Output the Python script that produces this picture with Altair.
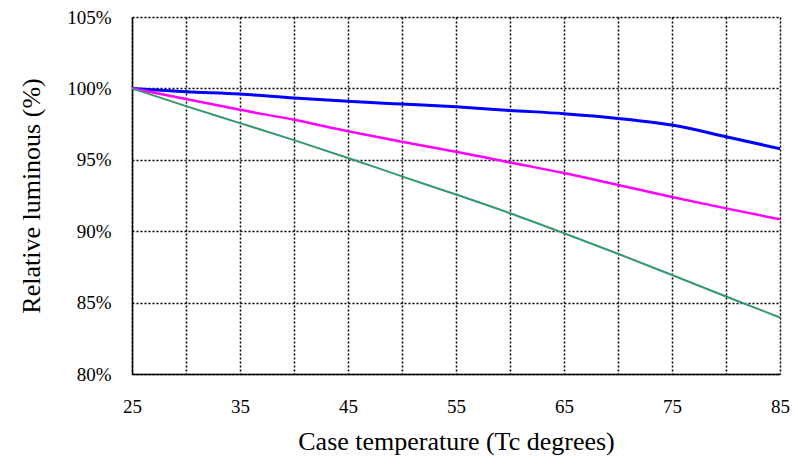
import altair as alt
import pandas as pd

temps = [25, 30, 35, 40, 45, 50, 55, 60, 65, 70, 75, 80, 85]
blue_vals = [100, 99.77, 99.6, 99.33, 99.1, 98.9, 98.71, 98.46, 98.23, 97.9, 97.43, 96.62, 95.78]
magenta_vals = [100, 99.26, 98.5, 97.8, 97.0, 96.26, 95.57, 94.81, 94.07, 93.24, 92.4, 91.6, 90.83]
green_vals = [100, 98.76, 97.57, 96.38, 95.13, 93.84, 92.57, 91.26, 89.86, 88.42, 86.93, 85.43, 83.96]

series_names = ["Blue", "Magenta", "Green"]
series_colors = ["#0000ff", "#ff00ff", "#33996a"]
series_widths = [3, 2, 2]

rows = []
for name, vals in zip(series_names, [blue_vals, magenta_vals, green_vals]):
    for t, v in zip(temps, vals):
        rows.append({"series": name, "temp": t, "value": v})
df = pd.DataFrame(rows)

FONT = "Liberation Serif"

chart = alt.Chart(df).mark_line(interpolate="monotone").encode(
    x=alt.X(
        "temp:Q",
        scale=alt.Scale(domain=[25, 85], nice=False, zero=False),
        axis=alt.Axis(
            values=list(range(25, 86, 5)),
            labelExpr="datum.value % 10 == 5 ? datum.label : ''",
            title="Case temperature (Tc degrees)",
            ticks=False,
            grid=True,
            gridColor="black",
            gridDash=[2, 2],
            gridWidth=1.5,
            gridOpacity=1,
            domainColor="black",
            domainWidth=1.5,
            labelFont=FONT,
            labelFontSize=19,
            labelColor="black",
            labelPadding=23,
            labelFlush=False,
            titleFont=FONT,
            titleFontSize=26,
            titleFontWeight="normal",
            titleColor="black",
            titlePadding=12,
        ),
    ),
    y=alt.Y(
        "value:Q",
        scale=alt.Scale(domain=[80, 105], nice=False, zero=False),
        axis=alt.Axis(
            values=[80, 85, 90, 95, 100, 105],
            labelExpr="datum.value + '%'",
            title="Relative luminous (%)",
            ticks=False,
            grid=True,
            gridColor="black",
            gridDash=[2, 2],
            gridWidth=1.5,
            gridOpacity=1,
            domainColor="black",
            domainWidth=1.5,
            labelFont=FONT,
            labelFontSize=19,
            labelColor="black",
            labelPadding=21,
            labelFlush=False,
            titleFont=FONT,
            titleFontSize=26,
            titleFontWeight="normal",
            titleColor="black",
            titlePadding=22,
        ),
    ),
    color=alt.Color(
        "series:N",
        scale=alt.Scale(domain=series_names, range=series_colors),
        legend=None,
    ),
    strokeWidth=alt.StrokeWidth(
        "series:N",
        scale=alt.Scale(domain=series_names, range=series_widths),
        legend=None,
    ),
).properties(
    width=648,
    height=357,
    autosize=alt.AutoSizeParams(type="none"),
    padding={"left": 124, "top": 9, "right": 10, "bottom": 83},
).configure_view(stroke=None).configure(background="white")

chart.save("out.html", embed_options={"renderer": "svg", "actions": False})
